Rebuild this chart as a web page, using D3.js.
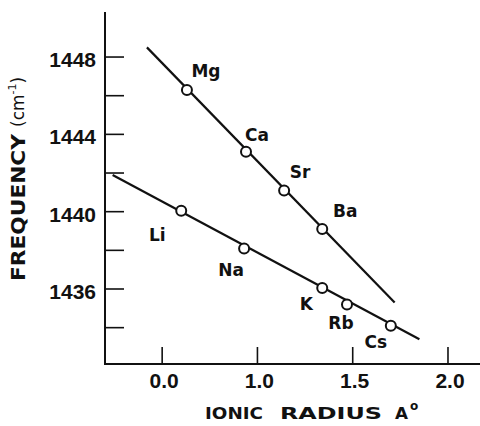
<!DOCTYPE html>
<html>
<head>
<meta charset="utf-8">
<script src="https://cdn.jsdelivr.net/npm/d3@7"></script>
<style>
  html, body { margin: 0; padding: 0; background: #fff; }
  svg { display: block; font-family: "Liberation Sans", Arial, sans-serif; }
</style>
</head>
<body>
<svg id="chart" width="480" height="426"></svg>
<script>
// alkaline earth ions (upper line) and alkali ions (lower line)
const earthNames = ['Mg', 'Ca', 'Sr', 'Ba'];
const earthRadius = [0.63, 0.94, 1.14, 1.34];
const earthFreq = [1446.3, 1443.1, 1441.1, 1439.1];

const alkaliNames = ['Li', 'Na', 'K', 'Rb', 'Cs'];
const alkaliRadius = [0.60, 0.93, 1.34, 1.47, 1.70];
const alkaliFreq = [1440.05, 1438.1, 1436.05, 1435.2, 1434.1];

// fitted lines, end points [radius, frequency]
const earthLine = [[0.42, 1448.5], [1.72, 1435.3]];
const alkaliLine = [[0.24, 1441.9], [1.85, 1433.4]];

const yTicks = [1448, 1446, 1444, 1442, 1440, 1438, 1436, 1434];
const yTickLabels = ['1448', '', '1444', '', '1440', '', '1436', ''];
const xTicks = [0.5, 1.0, 1.5, 2.0];
const xTickLabels = ['0.0', '1.0', '1.5', '2.0'];

// label offsets from the marker centre (px)
const labelOffset = {
    Mg: [19, -13], Ca: [11, -11], Sr: [16, -12], Ba: [23, -12],
    Li: [-24, 30], Na: [-13, 28], K: [-16, 22], Rb: [-6, 25], Cs: [-15, 22]
};

const svg = d3.select('#chart');

const x = d3.scaleLinear().domain([0.2, 2.168]).range([105, 480]);
const y = d3.scaleLinear().domain([1432.12, 1450.33]).range([364, 12]);

const ink = '#111';
const labelFont = '"DejaVu Sans", Verdana, sans-serif';

// axes
svg.append('line')
    .attr('x1', x(0.2)).attr('x2', x(0.2))
    .attr('y1', y(1450.33)).attr('y2', y(1432.12))
    .attr('stroke', ink).attr('stroke-width', 2);
svg.append('line')
    .attr('x1', x(0.2) - 1).attr('x2', x(2.168))
    .attr('y1', y(1432.12)).attr('y2', y(1432.12))
    .attr('stroke', ink).attr('stroke-width', 2);

yTicks.forEach((t, i) => {
    svg.append('line')
        .attr('x1', x(0.2)).attr('x2', x(0.2) + 19)
        .attr('y1', y(t)).attr('y2', y(t))
        .attr('stroke', ink).attr('stroke-width', 1.6);
    if (yTickLabels[i]) {
        svg.append('text')
            .attr('x', x(0.2) - 9)
            .attr('y', y(t) + 10)
            .attr('text-anchor', 'end')
            .style('font-size', '21px')
            .style('font-weight', 'bold')
            .style('fill', ink)
            .text(yTickLabels[i]);
    }
});

xTicks.forEach((t, i) => {
    svg.append('line')
        .attr('x1', x(t)).attr('x2', x(t))
        .attr('y1', y(1432.12)).attr('y2', y(1432.12) - 17)
        .attr('stroke', ink).attr('stroke-width', 1.6);
    svg.append('text')
        .attr('x', x(t) + 2)
        .attr('y', 388)
        .attr('text-anchor', 'middle')
        .style('font-size', '21px')
        .style('font-weight', 'bold')
        .style('fill', ink)
        .text(xTickLabels[i]);
});

// y axis title
const yTitle = svg.append('g').attr('transform', 'translate(25,281) rotate(-90)');
yTitle.append('text')
    .attr('x', 0).attr('y', 0)
    .attr('textLength', 147)
    .attr('lengthAdjust', 'spacingAndGlyphs')
    .style('font-family', labelFont)
    .style('font-size', '20px')
    .style('font-weight', 'bold')
    .style('fill', ink)
    .text('FREQUENCY');
const unit = yTitle.append('text')
    .attr('x', 154).attr('y', -1)
    .style('font-family', labelFont)
    .style('font-size', '17px')
    .style('fill', ink);
unit.append('tspan').text('(cm');
unit.append('tspan').style('font-size', '11px').attr('dy', -8).text('-1');
unit.append('tspan').attr('dy', 8).text(')');

// x axis title
const xTitleParts = [['IONIC', 205, 58], ['RADIUS', 280, 102], ['A', 395, 13]];
xTitleParts.forEach(p => {
    svg.append('text')
        .attr('x', p[1]).attr('y', 419)
        .attr('textLength', p[2])
        .attr('lengthAdjust', 'spacingAndGlyphs')
        .style('font-family', labelFont)
        .style('font-size', '16px')
        .style('font-weight', 'bold')
        .style('fill', ink)
        .text(p[0]);
});
svg.append('text')
    .attr('x', 410).attr('y', 410)
    .style('font-family', labelFont)
    .style('font-size', '12px')
    .style('font-weight', 'bold')
    .style('fill', ink)
    .text('o');

// fitted lines
const line = d3.line().x(d => x(d[0])).y(d => y(d[1]));
[earthLine, alkaliLine].forEach(l => {
    svg.append('path')
        .attr('d', line(l))
        .attr('fill', 'none')
        .attr('stroke', ink)
        .attr('stroke-width', 2.2);
});

// markers and element labels
function drawSeries(names, radius, freq) {
    names.forEach((n, i) => {
        const cx = x(radius[i]);
        const cy = y(freq[i]);
        svg.append('circle')
            .attr('cx', cx).attr('cy', cy).attr('r', 5)
            .attr('fill', '#fff')
            .attr('stroke', ink)
            .attr('stroke-width', 2);
        const off = labelOffset[n];
        svg.append('text')
            .attr('x', cx + off[0])
            .attr('y', cy + off[1])
            .attr('text-anchor', 'middle')
            .style('font-family', labelFont)
            .style('font-size', '17px')
            .style('font-weight', 'bold')
            .style('fill', ink)
            .text(n);
    });
}
drawSeries(earthNames, earthRadius, earthFreq);
drawSeries(alkaliNames, alkaliRadius, alkaliFreq);
</script>
</body>
</html>
